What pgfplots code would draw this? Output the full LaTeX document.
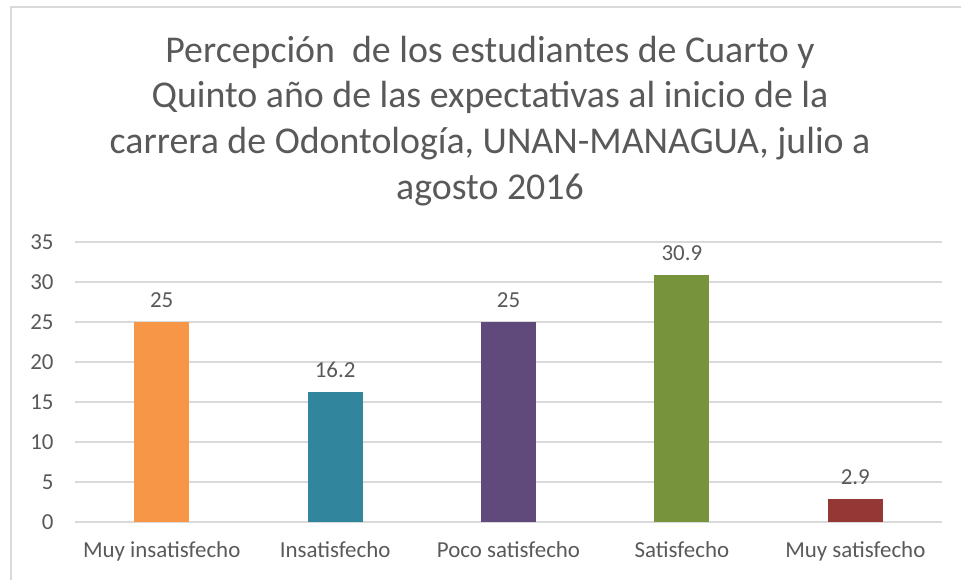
\documentclass[border=0pt]{standalone}
\usepackage{pgfplots}
\pgfplotsset{compat=1.18}
\usepackage{fontspec}
\setmainfont{Carlito}
\definecolor{txt}{HTML}{595959}
\definecolor{gridc}{HTML}{D9D9D9}
\definecolor{c1}{HTML}{F79646}
\definecolor{c2}{HTML}{31859C}
\definecolor{c3}{HTML}{604A7B}
\definecolor{c4}{HTML}{77933C}
\definecolor{c5}{HTML}{953735}
\begin{document}
\begin{tikzpicture}[x=1bp,y=1bp]
\useasboundingbox (0,0) rectangle (961,580);
\draw[color=gridc, line width=1.5bp] (11,0) -- (11,573) -- (961,573);
\node[font=\fontsize{38}{46}\selectfont, text=txt, align=center, anchor=center] at (490,459)
 {Percepción\ \ de los estudiantes de Cuarto y\\Quinto año de las expectativas al inicio de la\\carrera de Odontología, UNAN-MANAGUA, julio a\\agosto 2016};
\begin{axis}[
  at={(75bp,58bp)}, anchor=south west,
  scale only axis, width=867bp, height=280bp,
  xmin=-0.5, xmax=4.5, ymin=0, ymax=35,
  ytick={0,5,...,35},
  xtick={0,1,2,3,4},
  xticklabels={Muy insatisfecho,Insatisfecho,Poco satisfecho,Satisfecho,Muy satisfecho},
  axis line style={draw=none},
  ymajorgrids, grid style={color=gridc, line width=1.5bp},
  major tick length=0pt,
  tick label style={text=txt, font=\fontsize{23}{27}\selectfont},
  /pgf/number format/assume math mode=true,
  yticklabel style={xshift=-18bp},
  xticklabel style={yshift=-16bp},
  ybar, bar width=55bp, bar shift=0pt,
  nodes near coords,
  nodes near coords style={text=txt, font=\fontsize{23}{27}\selectfont, yshift=11bp},
  clip=false,
]
\addplot[fill=c1, draw=none, bar shift=0pt] coordinates {(0,25)};
\addplot[fill=c2, draw=none, bar shift=0pt] coordinates {(1,16.2)};
\addplot[fill=c3, draw=none, bar shift=0pt] coordinates {(2,25)};
\addplot[fill=c4, draw=none, bar shift=0pt] coordinates {(3,30.9)};
\addplot[fill=c5, draw=none, bar shift=0pt] coordinates {(4,2.9)};
\end{axis}
\end{tikzpicture}
\end{document}
